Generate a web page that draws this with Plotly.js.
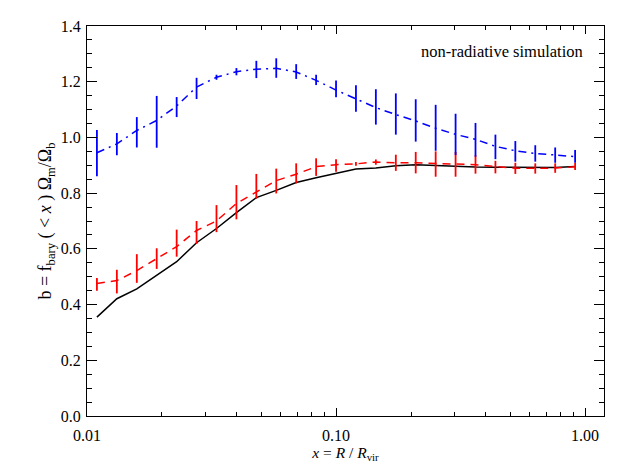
<!DOCTYPE html>
<html>
<head>
<meta charset="utf-8">
<script src="https://cdn.plot.ly/plotly-3.0.1.min.js"></script>
<style>
  html, body { margin: 0; padding: 0; background: #fff; }
  #chart { width: 629px; height: 472px; }
</style>
</head>
<body>
<div id="chart"></div>
<script>
// radial bins, x = R / Rvir (bin centres)
const radius = [0.01096, 0.01318, 0.01585, 0.01905, 0.02291, 0.02754, 0.03311, 0.03981, 0.04786,
  0.05754, 0.06918, 0.08318, 0.1000, 0.1202, 0.1445, 0.1738, 0.2089, 0.2512, 0.3020,
  0.3631, 0.4365, 0.5248, 0.6310, 0.7586, 0.9120];

// solid black curve
const bBlack = [0.355, 0.421, 0.456, 0.506, 0.554, 0.622, 0.673, 0.730, 0.784, 0.810,
  0.838, 0.855, 0.871, 0.887, 0.890, 0.898, 0.902, 0.899, 0.896, 0.894,
  0.893, 0.892, 0.891, 0.892, 0.896];

// red dashed curve with upper / lower ends of its bars
const bRed = [0.476, 0.486, 0.522, 0.566, 0.608, 0.666, 0.700, 0.763, 0.805, 0.845,
  0.868, 0.895, 0.902, 0.905, 0.912, 0.909, 0.909, 0.906, 0.905, 0.902,
  0.896, 0.889, 0.889, 0.890, 0.895];
const redHi = [0.495, 0.525, 0.581, 0.602, 0.669, 0.700, 0.757, 0.829, 0.869, 0.888,
  0.907, 0.925, 0.922, 0.912, 0.921, 0.938, 0.948, 0.950, 0.948, 0.936,
  0.916, 0.909, 0.907, 0.907, 0.909];
const redLo = [0.450, 0.440, 0.478, 0.528, 0.572, 0.618, 0.660, 0.706, 0.780, 0.799,
  0.835, 0.862, 0.877, 0.898, 0.902, 0.880, 0.871, 0.859, 0.859, 0.870,
  0.871, 0.869, 0.870, 0.873, 0.883];

// blue dash-dot curve with upper / lower ends of its bars
const bBlue = [0.945, 0.977, 1.025, 1.061, 1.113, 1.181, 1.216, 1.236, 1.245, 1.248,
  1.235, 1.205, 1.170, 1.138, 1.107, 1.082, 1.059, 1.033, 1.011, 0.993,
  0.968, 0.952, 0.942, 0.937, 0.931];
const blueHi = [1.027, 1.016, 1.073, 1.149, 1.145, 1.214, 1.225, 1.249, 1.275, 1.284,
  1.263, 1.225, 1.204, 1.187, 1.173, 1.158, 1.137, 1.117, 1.085, 1.052,
  1.010, 0.987, 0.972, 0.964, 0.955];
const blueLo = [0.861, 0.936, 0.964, 0.963, 1.073, 1.138, 1.207, 1.223, 1.213, 1.214,
  1.210, 1.188, 1.144, 1.092, 1.046, 1.010, 0.985, 0.952, 0.937, 0.931,
  0.922, 0.913, 0.913, 0.909, 0.909];

const xTicks = [0.01, 0.1, 1];
const xTickText = ["0.01", "0.10", "1.00"];
const xMinor = [0.02, 0.03, 0.04, 0.05, 0.06, 0.07, 0.08, 0.09, 0.2, 0.3, 0.4, 0.5, 0.6, 0.7, 0.8, 0.9];

const plus = (hi, c) => hi.map((h, i) => +(h - c[i]).toFixed(3));
const minus = (lo, c) => lo.map((l, i) => +(c[i] - l).toFixed(3));

const serif = "Liberation Serif, DejaVu Serif, serif";
const font = { family: serif, size: 16, color: "#000" };

const traces = [
  {
    x: radius, y: bBlack, type: "scatter", mode: "lines",
    line: { color: "#000", width: 1.5 },
    hoverinfo: "skip"
  },
  {
    x: radius, y: bRed, type: "scatter", mode: "lines",
    line: { color: "#ff0000", width: 1.5, dash: "8px,6px" },
    error_y: { type: "data", symmetric: false, array: plus(redHi, bRed), arrayminus: minus(redLo, bRed),
      color: "#ff0000", thickness: 1.8, width: 0 },
    hoverinfo: "skip"
  },
  {
    x: radius, y: bBlue, type: "scatter", mode: "lines",
    line: { color: "#0000ff", width: 1.5, dash: "8px,5px,2px,5px" },
    error_y: { type: "data", symmetric: false, array: plus(blueHi, bBlue), arrayminus: minus(blueLo, bBlue),
      color: "#0000ff", thickness: 1.8, width: 0 },
    hoverinfo: "skip"
  }
];

const layout = {
  width: 629, height: 472,
  margin: { l: 87, r: 25, t: 26, b: 56 },
  paper_bgcolor: "#fff", plot_bgcolor: "#fff",
  showlegend: false,
  font: font,
  xaxis: {
    type: "log", range: [-2, 0.076],
    tickmode: "array", tickvals: xTicks, ticktext: xTickText,
    ticks: "inside", ticklen: 8, tickwidth: 1, tickcolor: "#000",
    minor: { tickmode: "array", tickvals: xMinor, ticks: "inside", ticklen: 4, tickcolor: "#000" },
    showline: true, linecolor: "#000", linewidth: 1, mirror: "ticks",
    showgrid: false, zeroline: false,
    ticklabelstandoff: 5,
    title: { text: "<i>x</i> = <i>R</i> / <i>R</i><sub>vir</sub>", font: { family: serif, size: 15.5, color: "#000" }, standoff: 3 }
  },
  yaxis: {
    range: [0, 1.4], dtick: 0.2, tick0: 0, tickformat: ".1f",
    ticks: "inside", ticklen: 10, tickwidth: 1, tickcolor: "#000",
    minor: { dtick: 0.05, ticks: "inside", ticklen: 5, tickcolor: "#000" },
    showline: true, linecolor: "#000", linewidth: 1, mirror: "ticks",
    showgrid: false, zeroline: false,
    ticklabelstandoff: 2,
    title: { text: "b = f<sub>bary</sub> ( &lt; <i>x</i> ) Ω<sub>m</sub>/Ω<sub>b</sub>", font: { family: serif, size: 18, color: "#000" }, standoff: 4 }
  },
  annotations: [{
    text: "non-radiative simulation", xref: "paper", yref: "paper",
    x: 0.963, y: 0.934, xanchor: "right", yanchor: "middle",
    showarrow: false, font: { family: serif, size: 16.5, color: "#000" }
  }]
};

Plotly.newPlot("chart", traces, layout, { staticPlot: true });
</script>
</body>
</html>
